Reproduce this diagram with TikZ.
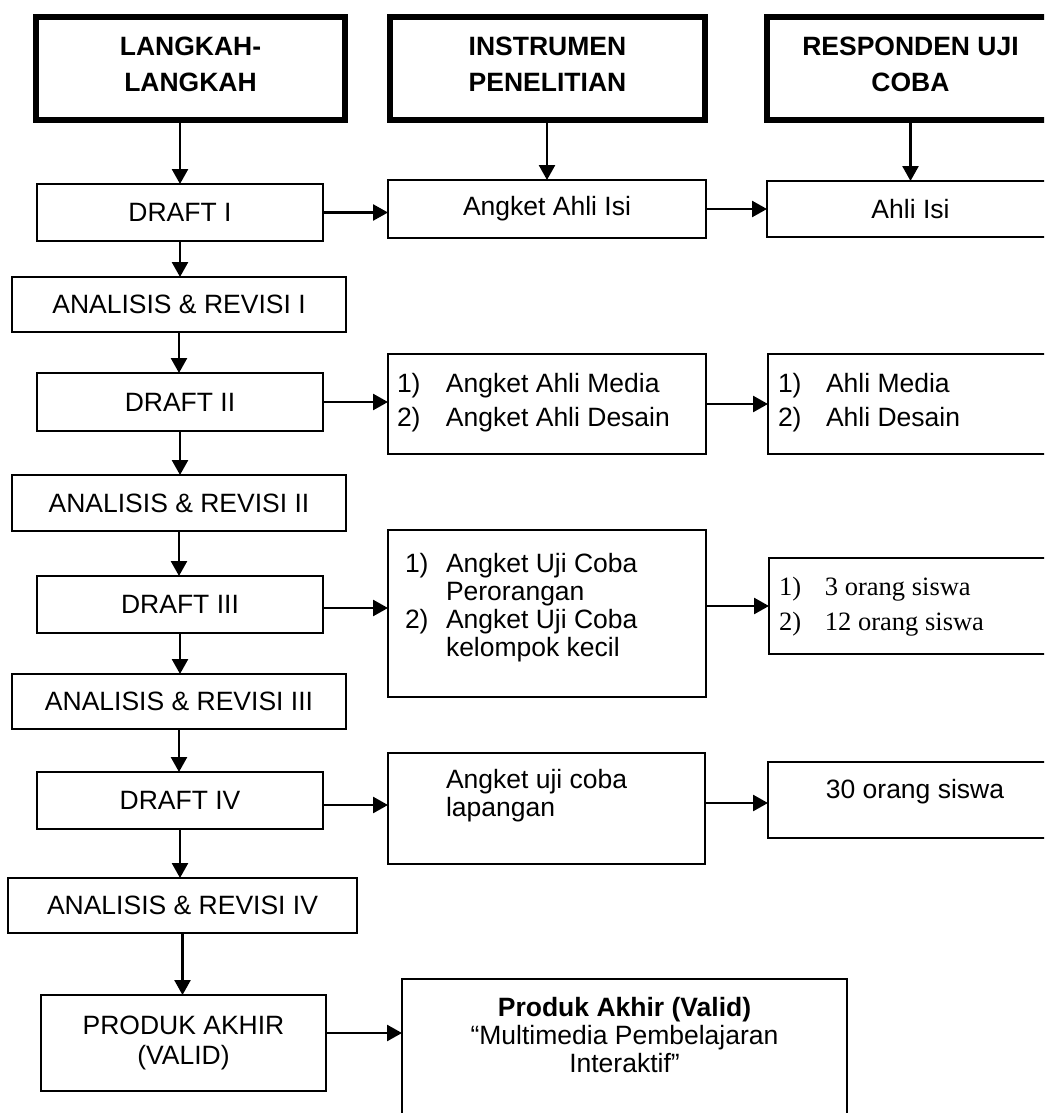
\documentclass[tikz,border=0pt]{standalone}
\usepackage{fontspec}
\setmainfont{Liberation Sans}
\newfontfamily\timesf{Liberation Serif}
\usetikzlibrary{arrows.meta,calc}
% top-aligned text block of fixed size: width, height, top pad, baselineskip, content
\newcommand{\tb}[5]{\parbox[c][#2][t]{#1}{\fontsize{26.5}{#4}\selectfont\vspace*{#3}#5}}
% list label: indent, tab width, label
\newcommand{\li}[3]{\hspace*{#1}\makebox[#2][l]{#3}}
\begin{document}
\begin{tikzpicture}[x=1pt,y=-1pt,
  every node/.style={font=\fontsize{26.5}{30}\selectfont},
  bx/.style={draw, line width=2.6pt, inner sep=0pt, outer sep=0pt, align=center},
  hbx/.style={draw, line width=6.5pt, inner sep=0pt, outer sep=0pt},
  arr/.style={line width=2.6pt, -{Triangle[length=15pt,width=16pt]}}]
\useasboundingbox (0,0) rectangle (1044,1113);
\clip (0,0) rectangle (1044,1113);

% headers
\node[hbx] (h1) at (190.5,68.5) {\tb{309pt}{103pt}{19.5pt}{36pt}{\centering\bfseries LANGKAH-\\LANGKAH}};
\node[hbx] (h2) at (547.5,68.5) {\tb{315pt}{103pt}{19.5pt}{36pt}{\centering\bfseries INSTRUMEN\\PENELITIAN}};
\node[hbx] (h3) at (910.5,68.5) {\tb{287pt}{103pt}{19.5pt}{36pt}{\centering\bfseries RESPONDEN UJI\\COBA}};

% left column
\node[bx, minimum width=286pt, minimum height=57pt] (d1) at (180,212.5) {DRAFT I};
\node[bx, minimum width=334pt, minimum height=55pt] (a1) at (179,304.5) {ANALISIS \& REVISI I};
\node[bx, minimum width=286pt, minimum height=58pt] (d2) at (180,402) {DRAFT II};
\node[bx, minimum width=334pt, minimum height=56pt] (a2) at (179,503) {ANALISIS \& REVISI II};
\node[bx, minimum width=286pt, minimum height=57pt] (d3) at (180,604.5) {DRAFT III};
\node[bx, minimum width=334pt, minimum height=55pt] (a3) at (179,701.5) {ANALISIS \& REVISI III};
\node[bx, minimum width=286pt, minimum height=57pt] (d4) at (180,800.5) {DRAFT IV};
\node[bx, minimum width=349pt, minimum height=55pt] (a4) at (182.5,905.5) {ANALISIS \& REVISI IV};
\node[bx, minimum width=285pt, minimum height=96pt] (p) at (183.5,1043) {PRODUK AKHIR\\(VALID)};

% middle column
\node[bx, minimum width=318pt, minimum height=58pt] (ai) at (547,209) {Angket Ahli Isi};
\node[bx] (am) at (547,404) {\tb{318pt}{100pt}{19.5pt}{34pt}{\raggedright
  \li{9pt}{49pt}{1)}Angket Ahli Media\\
  \li{9pt}{49pt}{2)}Angket Ahli Desain}};
\node[bx] (au) at (547,613.5) {\tb{318pt}{167pt}{23.5pt}{28pt}{\raggedright
  \li{17pt}{41pt}{1)}Angket Uji Coba\\
  \hspace*{58pt}Perorangan\\
  \li{17pt}{41pt}{2)}Angket Uji Coba\\
  \hspace*{58pt}kelompok kecil}};
\node[bx] (al) at (546.5,808.5) {\tb{317pt}{111pt}{16.5pt}{28pt}{\raggedright
  \hspace*{58pt}Angket uji coba\\
  \hspace*{58pt}lapangan}};
\node[bx] (pv) at (624.5,1059.5) {\tb{445pt}{161pt}{18.5pt}{28pt}{\centering
  \textbf{Produk Akhir (Valid)}\\
  “Multimedia Pembelajaran\\
  Interaktif”}};

% right column
\node[bx, minimum width=287pt, minimum height=56pt] (ri) at (910.5,209) {Ahli Isi};
\node[bx] (rm) at (911,404) {\tb{286pt}{100pt}{19.5pt}{34pt}{\raggedright
  \li{10pt}{48pt}{1)}Ahli Media\\
  \li{10pt}{48pt}{2)}Ahli Desain}};
\node[bx] (rs) at (911.5,606) {\tb{285pt}{96pt}{19pt}{35pt}{\raggedright\timesf
  \li{10pt}{46pt}{1)}3 orang siswa\\
  \li{10pt}{46pt}{2)}12 orang siswa}};
\node[bx] (r30) at (911,800) {\tb{286pt}{76pt}{17.5pt}{30pt}{\centering\hspace*{8pt}30 orang siswa}};

% vertical arrows
\draw[arr] (h1.south -| d1.north) -- (d1.north);
\draw[arr] (h2.south -| ai.north) -- (ai.north);
\draw[arr] (h3.south -| ri.north) -- (ri.north);
\draw[arr] (d1.south) -- (d1.south |- a1.north);
\draw[arr] (a1.south) -- (a1.south |- d2.north);
\draw[arr] (d2.south) -- (d2.south |- a2.north);
\draw[arr] (a2.south) -- (a2.south |- d3.north);
\draw[arr] (d3.south) -- (d3.south |- a3.north);
\draw[arr] (a3.south) -- (a3.south |- d4.north);
\draw[arr] (d4.south) -- (d4.south |- a4.north);
\draw[arr] (a4.south) -- (a4.south |- p.north);

% horizontal arrows
\coordinate (d3out) at ($(d3.east)+(0,3.5)$);
\coordinate (d4out) at ($(d4.east)+(0,4.5)$);
\coordinate (r30in) at ($(r30.west)+(0,3)$);
\coordinate (pout) at ($(p.east)+(0,-10)$);
\draw[arr] (d1.east) -- (d1.east -| ai.west);
\draw[arr] (ai.east) -- (ai.east -| ri.west);
\draw[arr] (d2.east) -- (d2.east -| am.west);
\draw[arr] (am.east) -- (am.east -| rm.west);
\draw[arr] (d3out) -- (d3out -| au.west);
\draw[arr] (au.east |- rs.west) -- (rs.west);
\draw[arr] (d4out) -- (d4out -| al.west);
\draw[arr] (al.east |- r30in) -- (r30in);
\draw[arr] (pout) -- (pout -| pv.west);
\end{tikzpicture}
\end{document}
